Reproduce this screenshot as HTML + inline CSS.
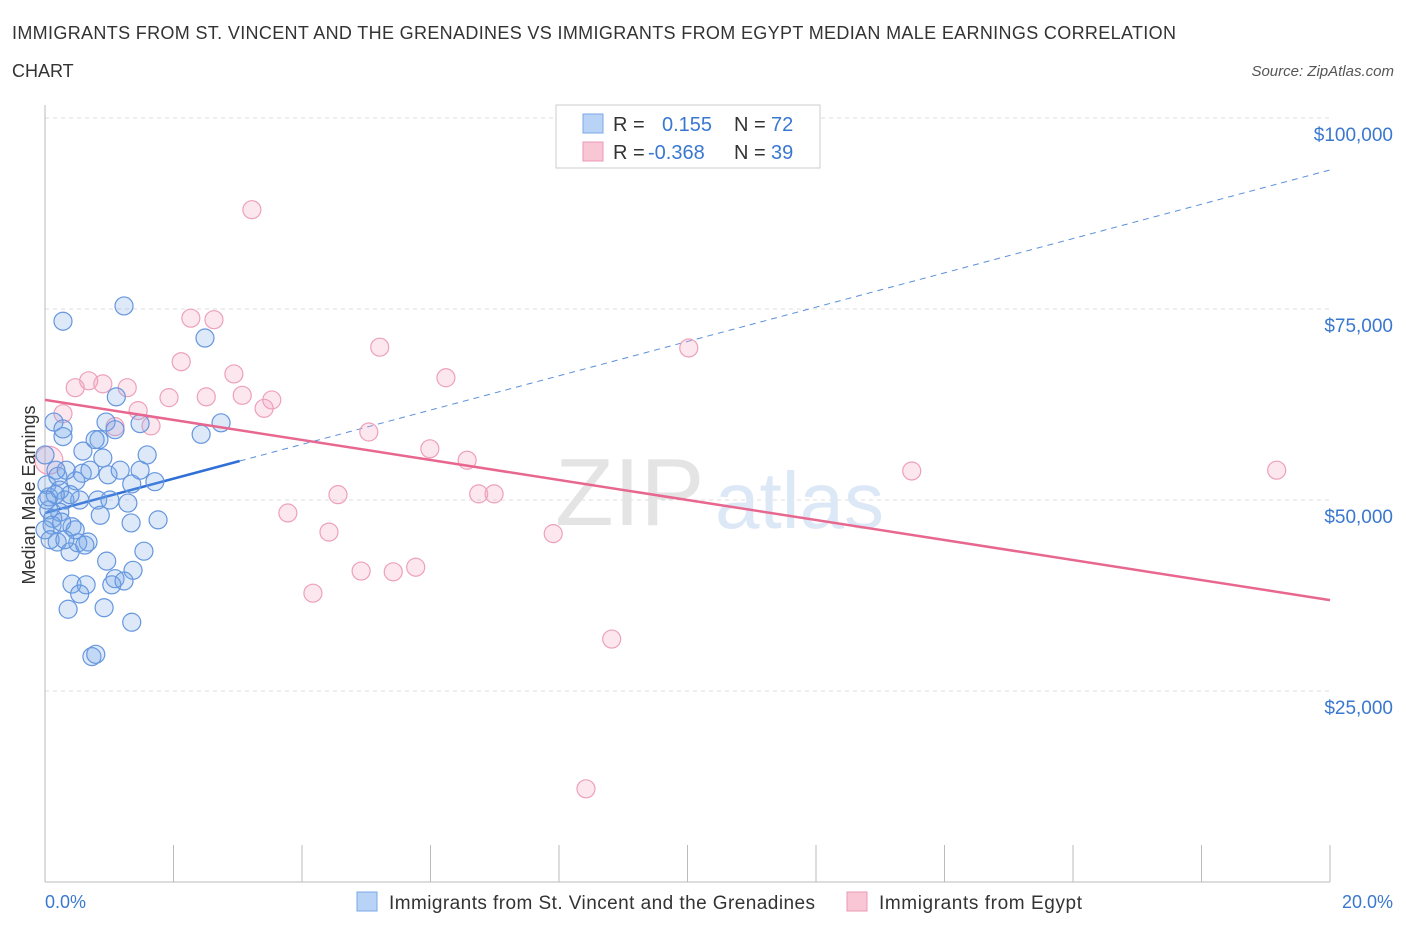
<!DOCTYPE html>
<html><head><meta charset="utf-8"><style>
body{margin:0;background:#fff;font-family:"Liberation Sans",sans-serif;}
svg text{font-family:"Liberation Sans",sans-serif;}
</style></head><body>
<svg width="1406" height="930" xmlns="http://www.w3.org/2000/svg" id="chart">
<text x="12" y="39" font-size="18" fill="#333" textLength="1164">IMMIGRANTS FROM ST. VINCENT AND THE GRENADINES VS IMMIGRANTS FROM EGYPT MEDIAN MALE EARNINGS CORRELATION</text>
<text x="12" y="77" font-size="18" fill="#333">CHART</text>
<text x="1394" y="76" font-size="15" fill="#555" font-style="italic" text-anchor="end">Source: ZipAtlas.com</text>
<g id="grid"></g>
<text x="555" y="525" font-size="96" fill="#e4e4e4" font-family="Liberation Serif">ZIP</text>
<text x="715" y="528" font-size="80" fill="#dde8f6">atlas</text>
<g id="axes"></g>
<g id="lines"></g>
<g id="points"></g>
<text x="35" y="495" font-size="18" fill="#333" text-anchor="middle" transform="rotate(-90 35 495)">Median Male Earnings</text>
<text x="45" y="908" font-size="18" fill="#3a78d0">0.0%</text>
<text x="1393" y="908" font-size="18" fill="#3a78d0" text-anchor="end">20.0%</text>
<g>
<rect x="556" y="105" width="264" height="63" fill="#fff" stroke="#ccc"/>
<rect x="583" y="114" width="20" height="19" fill="#b8d3f5" stroke="#7aa7e6"/>
<rect x="583" y="142" width="20" height="19" fill="#f9c6d6" stroke="#ea98b4"/>
<text x="613" y="131" font-size="20" fill="#333">R = </text><text x="662" y="131" font-size="20" fill="#3a78d0">0.155</text>
<text x="734" y="131" font-size="20" fill="#333">N = </text><text x="771" y="131" font-size="20" fill="#3a78d0">72</text>
<text x="613" y="159" font-size="20" fill="#333">R = </text><text x="648" y="159" font-size="20" fill="#3a78d0">-0.368</text>
<text x="734" y="159" font-size="20" fill="#333">N = </text><text x="771" y="159" font-size="20" fill="#3a78d0">39</text>
</g>
<g>
<rect x="357" y="892" width="20" height="19" fill="#b8d3f5" stroke="#7aa7e6"/>
<text x="389" y="909" font-size="19" fill="#333" textLength="426">Immigrants from St. Vincent and the Grenadines</text>
<rect x="847" y="892" width="20" height="19" fill="#f9c6d6" stroke="#ea98b4"/>
<text x="879" y="909" font-size="19" fill="#333" textLength="203">Immigrants from Egypt</text>
</g>
</svg>
<script>
const yTicks=[25000,50000,75000,100000];
const yTickLabels=["$25,000","$50,000","$75,000","$100,000"];
const blueX=[0.28,1.23,2.49,1.11,2.74,0.95,1.48,0.14,0.28,0.84,0.59,0.90,1.59,0.28,0.98,0.58,0.03,0.06,1.35,1.71,0.48,0.20,0.06,0.54,1.29,0.31,0.23,0.12,0.11,0.42,0.67,0.51,0.19,0.39,1.34,1.76,1.54,0.96,1.37,1.09,1.04,1.23,0.42,0.64,0.36,0.92,0.54,1.35,0.73,0.79,2.43,0.33,0.17,0.70,0.23,0.39,0,0.08,0.62,0.47,0.26,0.16,0.03,0,0.82,1.01,0.31,1.09,1.17,0.86,0.78,1.48];
const blueY=[73400,75400,71200,63500,60100,60200,60000,60200,58300,57900,56400,55500,55900,59300,53300,53500,52000,50400,52100,52400,52500,53100,48700,50000,49600,50000,48400,47600,46700,46500,44500,44400,44500,43200,47000,47400,43300,42000,40800,39700,38900,39400,39000,38900,35700,35900,37700,34000,29500,29800,58600,53900,53900,53900,51300,50700,46100,44800,44100,46100,47100,50700,50000,55900,50000,50000,44800,59200,53900,48000,57900,53900];
const pinkX=[3.22,2.27,2.63,2.12,2.94,5.21,10.02,6.24,0.47,0.68,0.90,1.28,3.07,2.51,1.93,3.53,3.41,1.45,1.65,1.09,0.28,5.04,5.99,6.57,0.06,4.56,6.75,6.99,3.78,4.42,7.91,4.92,5.42,5.77,4.17,8.82,8.42,13.49,19.17];
const pinkY=[88000,73800,73600,68100,66500,70000,69900,66000,64700,65600,65200,64700,63700,63500,63400,63100,62000,61700,59700,59600,61300,58900,56700,55200,55200,50700,50800,50800,48300,45800,45600,40700,40600,41200,37800,31800,12200,53800,53900];
const blueTrend=[48300,93200];
const pinkTrend=[63100,36900];
const NS="http://www.w3.org/2000/svg";
const X=v=>45+v/20*1285, Y=v=>882-v/25000*191;
function mk(t,a,p){const e=document.createElementNS(NS,t);for(const k in a)e.setAttribute(k,a[k]);document.getElementById(p).appendChild(e);return e;}
yTicks.forEach((t,i)=>{
 const g=mk('line',{x1:45,x2:1330,y1:Y(t),y2:Y(t),stroke:'#ddd','stroke-dasharray':'4,4'},'grid');
 
 
 const l=mk('text',{x:1393,y:Y(t)+23,'font-size':19,fill:'#3a78d0','text-anchor':'end'},'grid');
 l.textContent=yTickLabels[i];
 
 
});
let a=mk('line',{x1:45,x2:45,y1:105,y2:882,stroke:'#bbb'},'axes');


a=mk('line',{x1:45,x2:1330,y1:882,y2:882,stroke:'#bbb'},'axes');


for(let i=0;i<=10;i++){const t=mk('line',{x1:X(i*2),x2:X(i*2),y1:845,y2:882,stroke:'#bbb'},'axes');
 
 }
const xs=3.03;
let ln=mk('line',{x1:X(0),y1:Y(blueTrend[0]),x2:X(xs),y2:Y(blueTrend[0]+(blueTrend[1]-blueTrend[0])*xs/20),stroke:'#2f6fd6','stroke-width':2.5},'lines');


ln=mk('line',{x1:X(xs),y1:Y(blueTrend[0]+(blueTrend[1]-blueTrend[0])*xs/20),x2:X(20),y2:Y(blueTrend[1]),stroke:'#5b8fdc','stroke-width':1,'stroke-dasharray':'6,5'},'lines');


pinkX.forEach((x,i)=>{const c=mk('circle',{cx:X(x),cy:Y(pinkY[i]),r:i==24?14:9,fill:'rgba(244,160,190,0.25)',stroke:'#eda0bb','stroke-width':1.2},'points');
 
 });
blueX.forEach((x,i)=>{const c=mk('circle',{cx:X(x),cy:Y(blueY[i]),r:9,fill:'rgba(120,168,232,0.25)',stroke:'#6596de','stroke-width':1.2},'points');
 
 });
ln=mk('line',{x1:X(0),y1:Y(pinkTrend[0]),x2:X(20),y2:Y(pinkTrend[1]),stroke:'#e8678f','stroke-width':2.5},'points');


</script>
</body></html>
